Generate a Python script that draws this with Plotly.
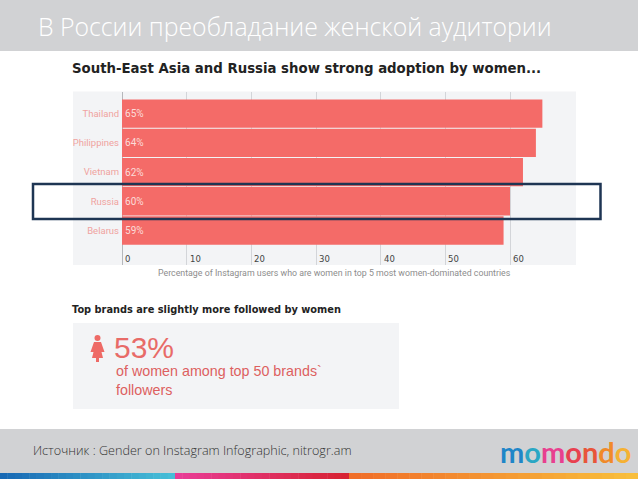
import plotly.graph_objects as go

W, H = 638, 479

countries = ["Thailand", "Philippines", "Vietnam", "Russia", "Belarus"]
shares = [65, 64, 62, 60, 59]
share_labels = ["65%", "64%", "62%", "60%", "59%"]
x_ticks = [0, 10, 20, 30, 40, 50, 60]
logo_letters = ["m", "o", "m", "o", "n", "d", "o"]
logo_colors = ["#1f86c8", "#2aa7c4", "#e8408f", "#e8404f", "#e8553a", "#f08a2a", "#f5b133"]

title = "В России преобладание женской аудитории"
chart_title = "South-East Asia and Russia show strong adoption by women..."
axis_title = "Percentage of Instagram users who are women in top 5 most women-dominated countries"
sub_title = "Top brands are slightly more followed by women"
big_number = "53%"
big_caption = "of women among top 50 brands`<br>followers"
source = "Источник : Gender on Instagram Infographic, nitrogr.am"

# gradient ends of the bottom stripe: start px, end px, from rgb, to rgb
stripe_parts = [
    (0, 175, (24, 105, 180), (70, 190, 215)),
    (175, 349, (232, 60, 150), (215, 35, 50)),
    (349, 638, (240, 110, 40), (248, 190, 60)),
]


def px(x):
    return x / W


def py(y):
    return 1 - y / H


def rect(x0, y0, x1, y1, color, layer="below", line=None):
    return dict(type="rect", xref="paper", yref="paper", layer=layer,
                x0=px(x0), x1=px(x1), y0=py(y0), y1=py(y1),
                fillcolor=color, line=line or dict(width=0))


def label(x, y, text, size, color, family="Open Sans", anchor="left", weight=None):
    font = dict(size=size, color=color, family=family)
    if weight:
        font["weight"] = weight
    return dict(xref="paper", yref="paper", x=px(x), y=py(y), text=text, showarrow=False,
                xanchor=anchor, yanchor="middle", align="left", font=font)


shapes = [
    rect(0, 0, W, 51, "#d1d2d4"),
    rect(0, 429, W, 473, "#d1d2d4"),
    rect(73, 91.5, 576, 265, "#f3f4f6"),
    rect(73, 323, 399, 409, "#f3f4f6"),
    # female icon
    dict(type="circle", xref="paper", yref="paper", layer="above",
         x0=px(94.5), x1=px(100.5), y0=py(335), y1=py(341),
         fillcolor="#ee6a66", line=dict(width=0)),
    dict(type="path", xref="paper", yref="paper", layer="above",
         path=" ".join([
             f"M {px(94)} {py(342)}", f"L {px(101)} {py(342)}", f"L {px(104.5)} {py(352)}",
             f"L {px(101.5)} {py(352)}", f"L {px(103)} {py(358)}", f"L {px(99)} {py(358)}",
             f"L {px(99)} {py(362)}", f"L {px(96)} {py(362)}", f"L {px(96)} {py(358)}",
             f"L {px(92)} {py(358)}", f"L {px(93.5)} {py(352)}", f"L {px(90.5)} {py(352)}", "Z",
         ]),
         fillcolor="#ee6a66", line=dict(width=0)),
    # highlight box around Russia
    dict(type="rect", xref="paper", yref="paper", layer="above",
         x0=px(33), x1=px(600.5), y0=py(184), y1=py(219),
         fillcolor="rgba(0,0,0,0)", line=dict(color="#1e3553", width=2.5)),
]

# bottom stripe, cut into short steps to get the gradient
for x0, x1, c0, c1 in stripe_parts:
    steps = 24
    for i in range(steps):
        t = i / (steps - 1)
        rgb = tuple(round(a + (b - a) * t) for a, b in zip(c0, c1))
        shapes.append(rect(x0 + (x1 - x0) * i / steps, 473, x0 + (x1 - x0) * (i + 1) / steps + 0.5, 479,
                           f"rgb{rgb}"))

logo = "".join(f"<span style='color:{c}'><b>{ch}</b></span>" for ch, c in zip(logo_letters, logo_colors))

annotations = [
    label(36, 26, title, 24.8, "#ffffff", weight=300),
    label(70, 69, f"<b>{chart_title}</b>", 13.3, "#222222", family="DejaVu Sans"),
    label(156, 273, axis_title, 8.8, "#8d8d8d", family="Roboto"),
    label(70, 309, f"<b>{sub_title}</b>", 9.8, "#222222", family="DejaVu Sans"),
    label(112, 347, big_number, 30, "#e86b68", family="Liberation Sans"),
    label(114, 380.5, big_caption, 14.3, "#dd5f5f", family="Liberation Sans"),
    label(31, 450, source, 12.6, "#333333", weight=300),
    label(498, 451, logo, 29, "#333333", family="Lato"),
]
for tick in x_ticks:
    annotations.append(dict(xref="x", yref="paper", x=tick, y=py(258.5), text=str(tick), showarrow=False,
                            xanchor="left", yanchor="middle", xshift=1,
                            font=dict(size=8.5, color="#444444", family="DejaVu Sans")))

fig = go.Figure(
    go.Bar(
        x=shares,
        y=countries,
        orientation="h",
        text=share_labels,
        textposition="inside",
        insidetextanchor="start",
        textangle=0,
        constraintext="none",
        textfont=dict(size=10, color="#fbdcd9", family="Roboto"),
        marker=dict(color="#f46b68", line=dict(width=0)),
        width=0.97,
        hoverinfo="skip",
    )
)

fig.update_layout(
    width=W,
    height=H,
    margin=dict(l=0, r=0, t=0, b=0),
    paper_bgcolor="white",
    plot_bgcolor="rgba(0,0,0,0)",
    showlegend=False,
    shapes=shapes,
    annotations=annotations,
    xaxis=dict(
        domain=[px(122), px(576)],
        range=[0, 70.2],
        tickvals=x_ticks,
        showticklabels=False,
        showgrid=True,
        gridcolor="#d3d5d9",
        gridwidth=1,
        zeroline=True,
        zerolinecolor="#b5b7bb",
        zerolinewidth=1,
    ),
    yaxis=dict(
        domain=[py(265), py(91.5)],
        range=[5.18, -0.757],
        tickfont=dict(size=9.5, color="#f0a3a0", family="Roboto"),
        ticks="",
        showgrid=False,
        zeroline=False,
        ticklabelstandoff=2,
    ),
)

# the page's default body margin would push the figure 8px in
fig.write_html("out.html", config=dict(displayModeBar=False),
               post_script="document.body.style.margin='0';")
